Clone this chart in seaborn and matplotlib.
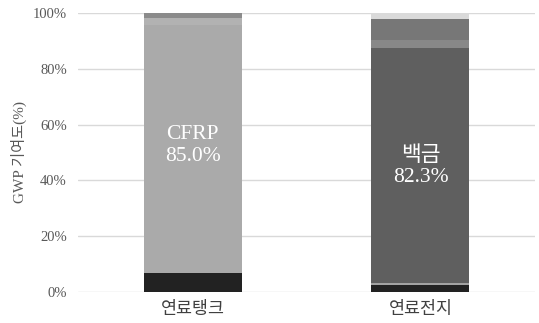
import matplotlib
matplotlib.use("Agg")
import matplotlib.pyplot as plt
import seaborn as sns
import numpy as np
import pandas as pd

# Contribution of each component to GWP (%), stacked bottom to top
categories = ["연료탱크", "연료전지"]
tank_values = [6.8, 85.0, 3.9, 2.5, 1.8]
cell_values = [2.5, 0.8, 82.3, 1.9, 2.7, 7.7, 1.9]
tank_colors = ["#222222", "#aaaaaa", "#aaaaaa", "#b2b2b2", "#8b8b8b"]
cell_colors = ["#222222", "#a3a3a3", "#5f5f5f", "#5f5f5f", "#888888", "#777777", "#dadada"]
label_texts = ["CFRP\n85.0%", "백금\n82.3%"]
label_y = [52.5, 45.0]
y_ticks = [0, 20, 40, 60, 80, 100]

sns.set_theme(style="white")
serif_kr = ["Liberation Serif", "Noto Sans CJK KR"]
plt.rcParams["font.family"] = serif_kr

fig = plt.figure(figsize=(5.39, 3.23), dpi=100)
ax = fig.add_axes([0.1447, 0.096, 0.848, 0.864])

stacks = {categories[0]: (tank_values, tank_colors),
          categories[1]: (cell_values, cell_colors)}

# Draw each stack as overlapping cumulative bars, tallest first
for cat, (vals, cols) in stacks.items():
    tops = np.cumsum(vals)
    for top, col in reversed(list(zip(tops, cols))):
        df = pd.DataFrame({"cat": [cat], "val": [top]})
        sns.barplot(data=df, x="cat", y="val", order=categories, color=col,
                    width=0.43, saturation=1, linewidth=0, ax=ax, zorder=3)

for i, (txt, yy) in enumerate(zip(label_texts, label_y)):
    ax.text(i, yy, txt, ha="center", va="center", color="white",
            fontsize=15.5, linespacing=1.15, family=serif_kr,
            fontweight="light", zorder=5)

ax.set_xlim(-0.503, 1.503)
ax.set_ylim(0, 100)
ax.set_yticks(y_ticks)
ax.set_yticklabels([f"{t}%" for t in y_ticks])
ax.yaxis.grid(True, color="#d9d9d9", linewidth=1.0, zorder=0)
ax.set_axisbelow(True)
for s in ax.spines.values():
    s.set_visible(False)

ax.tick_params(axis="y", length=0, pad=8, labelsize=10.5, labelcolor="#595959")
ax.tick_params(axis="x", length=0, pad=7, labelsize=12.5, labelcolor="#404040")
for lab in ax.get_xticklabels() + ax.get_yticklabels():
    lab.set_family(serif_kr)
    lab.set_fontweight("light")

ax.set_xlabel("")
ax.set_ylabel("GWP 기여도(%)", fontsize=11, color="#595959", family=serif_kr,
              fontweight="light", labelpad=4)

fig.savefig("out.png", dpi=100, facecolor="white")
